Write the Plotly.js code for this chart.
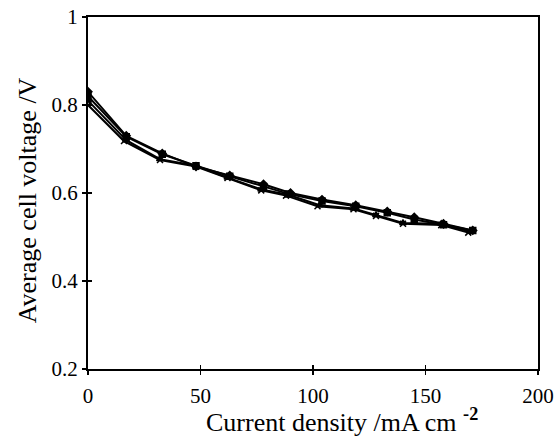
<!DOCTYPE html>
<html><head><meta charset="utf-8">
<script src="https://cdn.plot.ly/plotly-3.0.1.min.js"></script>
<style>html,body{margin:0;padding:0;background:#fff}#chart{width:559px;height:438px}</style>
</head><body><div id="chart"></div>
<script>
const xA = [0, 17, 33, 48, 63, 78, 90, 104, 119, 133, 145, 158, 171];
const yA = [0.83, 0.73, 0.69, 0.66, 0.64, 0.62, 0.60, 0.585, 0.572, 0.558, 0.545, 0.53, 0.515];
const xB = [0, 17, 33, 48, 63, 78, 89, 104, 119, 133, 145, 158, 171];
const yB = [0.82, 0.728, 0.688, 0.662, 0.638, 0.615, 0.598, 0.582, 0.57, 0.555, 0.54, 0.528, 0.515];
const xC = [0, 17, 32, 48, 62, 77, 89, 103, 118, 128, 140, 157, 170];
const yC = [0.81, 0.72, 0.677, 0.662, 0.635, 0.608, 0.596, 0.572, 0.565, 0.55, 0.532, 0.53, 0.512];
const xD = [0, 16, 32, 48, 62, 77, 88, 102, 118, 128, 140, 157, 169];
const yD = [0.80, 0.718, 0.675, 0.66, 0.634, 0.606, 0.594, 0.57, 0.563, 0.548, 0.53, 0.527, 0.51];
const xTicks = [0, 50, 100, 150, 200];
const yTicks = [0.2, 0.4, 0.6, 0.8, 1];
const yTickText = ['0.2', '0.4', '0.6', '0.8', '1'];
const xTitle = 'Current density /mA cm <sup><b>-2</b></sup>';
const yTitle = 'Average cell voltage /V';

const series = [
  {x: xA, y: yA, sym: 'diamond'},
  {x: xB, y: yB, sym: 'square'},
  {x: xC, y: yC, sym: 'triangle-up'},
  {x: xD, y: yD, sym: 'x-thin-open'}
];
const traces = series.map(s => ({
  x: s.x, y: s.y, type: 'scatter', mode: 'lines+markers',
  line: {color: '#000', width: 2},
  marker: {symbol: s.sym, size: 6, color: '#000', line: {color: '#000', width: 1.5}},
  showlegend: false, hoverinfo: 'skip'
}));
traces.push({x: [0], y: [0.2], xaxis: 'x2', yaxis: 'y2', mode: 'markers',
  marker: {opacity: 0}, showlegend: false, hoverinfo: 'skip'});

const font = {family: '"Liberation Serif", "Times New Roman", serif', color: '#000'};
const layout = {
  width: 559, height: 438,
  margin: {l: 88, r: 21, t: 17, b: 69},
  paper_bgcolor: '#fff', plot_bgcolor: '#fff',
  font: Object.assign({size: 21}, font),
  xaxis: {range: [0, 200], tickvals: xTicks, ticktext: xTicks.map(String),
    ticks: 'outside', ticklen: 4, tickwidth: 1.5, tickcolor: '#000',
    showline: true, linecolor: '#000', linewidth: 2, mirror: true, ticklabelstandoff: 3,
    showgrid: false, zeroline: false, tickfont: Object.assign({size: 21}, font)},
  yaxis: {range: [0.2, 1], tickvals: yTicks, ticktext: yTickText,
    ticks: 'outside', ticklen: 4, tickwidth: 1.5, tickcolor: '#000',
    showline: true, linecolor: '#000', linewidth: 2, mirror: true,
    showgrid: false, zeroline: false, tickfont: Object.assign({size: 21}, font)},
  xaxis2: {overlaying: 'x', range: [0, 200], tickvals: xTicks, showticklabels: false,
    ticks: 'inside', ticklen: 4, tickwidth: 1.5, tickcolor: '#000',
    showline: false, showgrid: false, zeroline: false, side: 'bottom'},
  yaxis2: {overlaying: 'y', range: [0.2, 1], tickvals: yTicks, showticklabels: false,
    ticks: 'inside', ticklen: 4, tickwidth: 1.5, tickcolor: '#000',
    showline: false, showgrid: false, zeroline: false, side: 'left'},
  annotations: [
    {text: xTitle, xref: 'paper', yref: 'paper', x: 0.565, y: -0.145,
     xanchor: 'center', yanchor: 'middle', showarrow: false,
     font: Object.assign({size: 26}, font)},
    {text: yTitle, xref: 'paper', yref: 'paper', x: -0.135, y: 0.48,
     xanchor: 'center', yanchor: 'middle', showarrow: false, textangle: -90,
     font: Object.assign({size: 26}, font)}
  ]
};
Plotly.newPlot('chart', traces, layout, {displayModeBar: false, staticPlot: true});
</script></body></html>
